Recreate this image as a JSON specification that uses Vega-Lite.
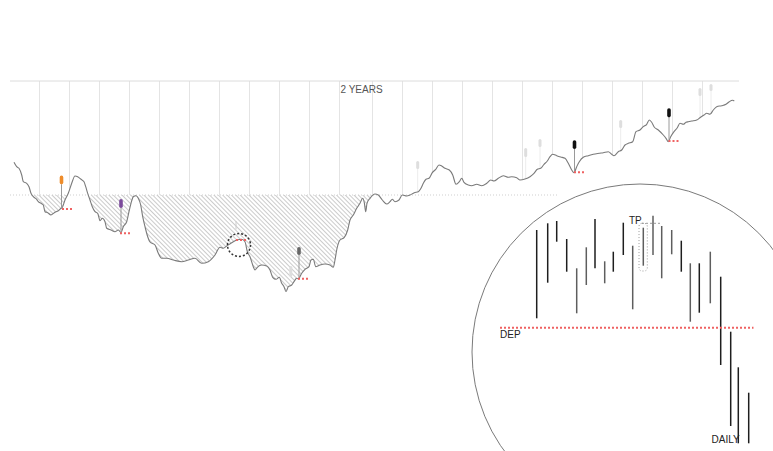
{
"$schema": "https://vega.github.io/schema/vega-lite/v6.json",
"width": 773, "height": 451, "autosize": {"type": "none"}, "padding": 0,
"background": "white",
"config": {"view": {"stroke": null}},
"resolve": {"scale": {"color": "independent"}},
"datasets": {
"price": [{"t":14,"v":288.7},{"t":16.7,"v":284.3},{"t":19,"v":282.7},{"t":21.7,"v":276},{"t":23.3,"v":269.3},{"t":26.7,"v":267.7},{"t":29,"v":264.3},{"t":31,"v":257.7},{"t":33.3,"v":254.3},{"t":36.7,"v":251.7},{"t":38.3,"v":249.3},{"t":41,"v":247.7},{"t":43.3,"v":246},{"t":45,"v":239.3},{"t":47.7,"v":238.3},{"t":51,"v":236},{"t":54.3,"v":238.3},{"t":58.3,"v":240.3},{"t":61,"v":242.7},{"t":62.3,"v":243.5},{"t":65,"v":251},{"t":68.3,"v":257.7},{"t":71.7,"v":267.7},{"t":75,"v":275},{"t":77.7,"v":274.3},{"t":81,"v":271.7},{"t":84,"v":269.3},{"t":85.7,"v":264.3},{"t":87.7,"v":257.7},{"t":90,"v":251},{"t":92.3,"v":244.3},{"t":95,"v":239.3},{"t":97.7,"v":237.7},{"t":100,"v":230.3},{"t":102.3,"v":232.7},{"t":105,"v":229.3},{"t":106.7,"v":222.7},{"t":111,"v":221},{"t":115,"v":219.3},{"t":118.3,"v":221},{"t":121,"v":218.5},{"t":123.3,"v":224.3},{"t":126.7,"v":229.3},{"t":129,"v":239.3},{"t":131,"v":247.7},{"t":133.3,"v":254.3},{"t":136,"v":255.3},{"t":138.3,"v":252.7},{"t":140.7,"v":246},{"t":142.7,"v":234.3},{"t":145,"v":224.3},{"t":147.7,"v":214.3},{"t":150,"v":209},{"t":155,"v":206},{"t":158.3,"v":197.7},{"t":161.7,"v":192.7},{"t":166.7,"v":192.7},{"t":173.3,"v":191},{"t":181.7,"v":189.3},{"t":188.3,"v":191},{"t":195,"v":192.7},{"t":201.7,"v":187.7},{"t":208.3,"v":189.3},{"t":215,"v":196},{"t":220,"v":203.7},{"t":223.3,"v":202.7},{"t":226.7,"v":205},{"t":231.7,"v":208.3},{"t":236.7,"v":211},{"t":241.7,"v":211.7},{"t":245,"v":209.3},{"t":247.3,"v":199.3},{"t":250,"v":194.3},{"t":253.3,"v":184.3},{"t":255,"v":181},{"t":257.3,"v":183.7},{"t":261.7,"v":186},{"t":266.7,"v":185},{"t":270,"v":181},{"t":272.7,"v":173.7},{"t":276,"v":171.7},{"t":279.3,"v":173.7},{"t":281.7,"v":167.7},{"t":284,"v":164.3},{"t":286,"v":159.3},{"t":288.3,"v":164.3},{"t":291.7,"v":166},{"t":294,"v":169.3},{"t":296.7,"v":172.7},{"t":298.3,"v":172},{"t":301.7,"v":177.7},{"t":305,"v":181.7},{"t":309,"v":184.3},{"t":311,"v":191},{"t":313.3,"v":191.7},{"t":315.7,"v":184.3},{"t":320,"v":186},{"t":325,"v":187},{"t":330,"v":186},{"t":333.3,"v":183.7},{"t":335,"v":191},{"t":336.7,"v":201},{"t":340,"v":211},{"t":344.3,"v":213.7},{"t":347.7,"v":221},{"t":350,"v":231},{"t":353.3,"v":236},{"t":356.7,"v":242.7},{"t":360,"v":247.7},{"t":362.7,"v":252.7},{"t":364.3,"v":248.3},{"t":365.7,"v":239.3},{"t":367,"v":247.7},{"t":370,"v":252.7},{"t":375,"v":257},{"t":378.3,"v":256},{"t":382.3,"v":251},{"t":386.7,"v":247},{"t":390,"v":249.3},{"t":392.3,"v":251.7},{"t":395,"v":249.3},{"t":399,"v":251},{"t":402.3,"v":256},{"t":406.7,"v":255},{"t":410,"v":256},{"t":414.3,"v":258.3},{"t":418.3,"v":259.3},{"t":421,"v":262.7},{"t":423.3,"v":267.7},{"t":426,"v":271.7},{"t":429,"v":272.7},{"t":432.3,"v":278.3},{"t":435.7,"v":281.7},{"t":439,"v":286},{"t":441.7,"v":285},{"t":445,"v":282.7},{"t":449.3,"v":281},{"t":452.7,"v":276},{"t":456,"v":266.7},{"t":459.3,"v":269.3},{"t":461.7,"v":272.7},{"t":464,"v":268.7},{"t":468.3,"v":266},{"t":471.7,"v":265.3},{"t":476.7,"v":266.7},{"t":481.7,"v":265.3},{"t":486.7,"v":267.7},{"t":490.7,"v":271},{"t":494,"v":270},{"t":498.3,"v":272.7},{"t":503.3,"v":275.3},{"t":508.3,"v":273.7},{"t":511.7,"v":274.3},{"t":516.7,"v":273.3},{"t":520,"v":271},{"t":525,"v":272},{"t":530,"v":274.3},{"t":534,"v":277.7},{"t":537.3,"v":281.7},{"t":540.7,"v":282.7},{"t":544,"v":286.7},{"t":547.3,"v":290},{"t":550,"v":294.3},{"t":552.7,"v":296.7},{"t":556.7,"v":295.3},{"t":560.7,"v":294},{"t":565,"v":292.7},{"t":568.3,"v":287.7},{"t":571.7,"v":281},{"t":574,"v":278.3},{"t":576.7,"v":284.3},{"t":579.3,"v":289.3},{"t":583.3,"v":293.7},{"t":588.3,"v":295.3},{"t":593.3,"v":296.7},{"t":599.3,"v":297.7},{"t":603.3,"v":298.3},{"t":608.3,"v":299.3},{"t":611.7,"v":296.7},{"t":614,"v":295.3},{"t":618.3,"v":299.3},{"t":621.7,"v":301},{"t":625,"v":306},{"t":628.3,"v":307.7},{"t":632.7,"v":309.3},{"t":636,"v":319.3},{"t":640,"v":321},{"t":643.3,"v":324.3},{"t":646.7,"v":326.7},{"t":649.3,"v":331},{"t":651.7,"v":328.7},{"t":654,"v":324.3},{"t":658.3,"v":321},{"t":663.3,"v":316},{"t":666,"v":312.7},{"t":668.3,"v":309.3},{"t":670.7,"v":314.3},{"t":674,"v":319.3},{"t":677.3,"v":323.3},{"t":680,"v":327.7},{"t":683.3,"v":326.7},{"t":686,"v":328.7},{"t":688.3,"v":329.3},{"t":691.7,"v":330},{"t":696.7,"v":331},{"t":700,"v":333.3},{"t":704,"v":336},{"t":706.7,"v":337.7},{"t":710,"v":336.7},{"t":713.3,"v":341},{"t":716.7,"v":344.3},{"t":721.7,"v":345.3},{"t":726,"v":346.7},{"t":729.3,"v":349.3},{"t":732.7,"v":350.7},{"t":734.3,"v":350}],
"drawdown": [{"t":32.1,"v":256},{"t":33.3,"v":254.3},{"t":36.7,"v":251.7},{"t":38.3,"v":249.3},{"t":41,"v":247.7},{"t":43.3,"v":246},{"t":45,"v":239.3},{"t":47.7,"v":238.3},{"t":51,"v":236},{"t":54.3,"v":238.3},{"t":58.3,"v":240.3},{"t":61,"v":242.7},{"t":62.3,"v":243.5},{"t":65,"v":251},{"t":67.5,"v":256},{"t":88.3,"v":256},{"t":90,"v":251},{"t":92.3,"v":244.3},{"t":95,"v":239.3},{"t":97.7,"v":237.7},{"t":100,"v":230.3},{"t":102.3,"v":232.7},{"t":105,"v":229.3},{"t":106.7,"v":222.7},{"t":111,"v":221},{"t":115,"v":219.3},{"t":118.3,"v":221},{"t":121,"v":218.5},{"t":123.3,"v":224.3},{"t":126.7,"v":229.3},{"t":129,"v":239.3},{"t":131,"v":247.7},{"t":133.3,"v":254.3},{"t":136,"v":255.3},{"t":138.3,"v":252.7},{"t":140.7,"v":246},{"t":142.7,"v":234.3},{"t":145,"v":224.3},{"t":147.7,"v":214.3},{"t":150,"v":209},{"t":155,"v":206},{"t":158.3,"v":197.7},{"t":161.7,"v":192.7},{"t":166.7,"v":192.7},{"t":173.3,"v":191},{"t":181.7,"v":189.3},{"t":188.3,"v":191},{"t":195,"v":192.7},{"t":201.7,"v":187.7},{"t":208.3,"v":189.3},{"t":215,"v":196},{"t":220,"v":203.7},{"t":223.3,"v":202.7},{"t":226.7,"v":205},{"t":231.7,"v":208.3},{"t":236.7,"v":211},{"t":241.7,"v":211.7},{"t":245,"v":209.3},{"t":247.3,"v":199.3},{"t":250,"v":194.3},{"t":253.3,"v":184.3},{"t":255,"v":181},{"t":257.3,"v":183.7},{"t":261.7,"v":186},{"t":266.7,"v":185},{"t":270,"v":181},{"t":272.7,"v":173.7},{"t":276,"v":171.7},{"t":279.3,"v":173.7},{"t":281.7,"v":167.7},{"t":284,"v":164.3},{"t":286,"v":159.3},{"t":288.3,"v":164.3},{"t":291.7,"v":166},{"t":294,"v":169.3},{"t":296.7,"v":172.7},{"t":298.3,"v":172},{"t":301.7,"v":177.7},{"t":305,"v":181.7},{"t":309,"v":184.3},{"t":311,"v":191},{"t":313.3,"v":191.7},{"t":315.7,"v":184.3},{"t":320,"v":186},{"t":325,"v":187},{"t":330,"v":186},{"t":333.3,"v":183.7},{"t":335,"v":191},{"t":336.7,"v":201},{"t":340,"v":211},{"t":344.3,"v":213.7},{"t":347.7,"v":221},{"t":350,"v":231},{"t":353.3,"v":236},{"t":356.7,"v":242.7},{"t":360,"v":247.7},{"t":362.7,"v":252.7},{"t":364.3,"v":248.3},{"t":365.7,"v":239.3},{"t":367,"v":247.7},{"t":370,"v":252.7},{"t":373.8,"v":256}],
"grid": [{"t":39.5,"v":370,"v2":249},{"t":69.5,"v":370,"v2":261.2},{"t":99.5,"v":370,"v2":231.9},{"t":129.5,"v":370,"v2":241.4},{"t":159.5,"v":370,"v2":196},{"t":189.5,"v":370,"v2":191.3},{"t":219.5,"v":370,"v2":202.9},{"t":249.5,"v":370,"v2":195.2},{"t":279.5,"v":370,"v2":173.2},{"t":309.5,"v":370,"v2":186},{"t":339.5,"v":370,"v2":209.5},{"t":372.5,"v":370,"v2":254.8},{"t":402.5,"v":370,"v2":256},{"t":432.5,"v":370,"v2":278.5},{"t":462.5,"v":370,"v2":271.3},{"t":492.5,"v":370,"v2":270.4},{"t":522.5,"v":370,"v2":271.5},{"t":552.5,"v":370,"v2":296.5},{"t":582.5,"v":370,"v2":292.8},{"t":612.5,"v":370,"v2":296.2},{"t":642.5,"v":370,"v2":323.5},{"t":672.5,"v":370,"v2":317},{"t":702.5,"v":370,"v2":334.7}],
"frame": [{"t":10,"t2":739,"v":370}],
"base": [{"t":10,"t2":558,"v":256}],
"ghostStems": [{"t":417.7,"v":282,"v2":259},{"t":525.7,"v":294,"v2":272},{"t":540,"v":304,"v2":283},{"t":620.7,"v":323,"v2":301},{"t":700,"v":355,"v2":333},{"t":711,"v":360,"v2":337}],
"ghosts": [{"t":417.7,"v":283.5,"v2":288.5},{"t":525.7,"v":295.5,"v2":301.5},{"t":540,"v":305.5,"v2":310.5},{"t":620.7,"v":324.5,"v2":329.5},{"t":700,"v":356.5,"v2":361.5},{"t":711,"v":361.5,"v2":365.5},{"t":290.8,"v":175.5,"v2":183.5}],
"stems": [{"t":61.5,"v":266.7,"v2":242},{"t":121,"v":243,"v2":217.7},{"t":299,"v":196,"v2":172.3},{"t":574.5,"v":302,"v2":278.7},{"t":669,"v":333.7,"v2":310}],
"candles": [{"t":61.5,"v":268.4,"v2":273.6,"sig":"s1"},{"t":121,"v":244.7,"v2":250.3,"sig":"s2"},{"t":299,"v":197.7,"v2":202.3,"sig":"s3"},{"t":574.5,"v":303.7,"v2":309,"sig":"s4"},{"t":669,"v":335.4,"v2":341,"sig":"s4"}],
"stops": [{"t":62,"t2":72,"v":242},{"t":120,"t2":130,"v":217.7},{"t":298,"t2":308.5,"v":172.3},{"t":574,"t2":584,"v":278.7},{"t":668.5,"t2":678.5,"v":310},{"t":236,"t2":247,"v":211}],
"ticks": [{"t":236,"v":230,"v2":221.5}],
"ring": [{"t":239,"v":206}],
"zoomCircle": [{"t":640,"v":99}],
"daily": [{"t":536.7,"v":221,"v2":132.7,"tone":"dark"},{"t":547.7,"v":227.7,"v2":168.3,"tone":"dark"},{"t":556.7,"v":230,"v2":209.3,"tone":"dark"},{"t":566.7,"v":212,"v2":179.3,"tone":"dark"},{"t":576.7,"v":182.7,"v2":137.7,"tone":"mid"},{"t":586.3,"v":203.7,"v2":166,"tone":"mid"},{"t":595,"v":232,"v2":182.7,"tone":"dark"},{"t":604.7,"v":189.7,"v2":167.7,"tone":"mid"},{"t":613.3,"v":199.3,"v2":179.3,"tone":"dark"},{"t":623.3,"v":228.3,"v2":196,"tone":"dark"},{"t":632.7,"v":205.3,"v2":141.7,"tone":"mid"},{"t":643.3,"v":223.3,"v2":185.3,"tone":"mid"},{"t":653,"v":235.3,"v2":196,"tone":"mid"},{"t":661.7,"v":225,"v2":172.7,"tone":"mid"},{"t":671.7,"v":221,"v2":196.7,"tone":"mid"},{"t":681.3,"v":210.3,"v2":179.3,"tone":"dark"},{"t":690.3,"v":187.7,"v2":129.3,"tone":"mid"},{"t":699.3,"v":187.7,"v2":138.3,"tone":"dark"},{"t":710.3,"v":199.3,"v2":147.7,"tone":"mid"},{"t":720.7,"v":174.3,"v2":86,"tone":"dark"},{"t":730.7,"v":119.3,"v2":25,"tone":"dark"},{"t":738.3,"v":83.7,"v2":7.7,"tone":"dark"},{"t":748.7,"v":58.3,"v2":7.7,"tone":"dark"}],
"tpBox": [{"t":639,"t2":647.3,"v":227.7,"v2":180}],
"tpLine": [{"t":642,"t2":660,"v":227.7}],
"dep": [{"t":500,"t2":753.5,"v":123.3}],
"labels": [{"t":340.5,"v":357.7,"label":"2 YEARS","kind":"a"},{"t":629,"v":227,"label":"TP","kind":"b"},{"t":500,"v":112.7,"label":"DEP","kind":"b"},{"t":711.5,"v":8.3,"label":"DAILY","kind":"b"}]
},
"encoding": {
"x": {"field": "t", "type": "quantitative", "scale": {"domain": [0, 773], "nice": false, "zero": false}, "axis": null},
"y": {"field": "v", "type": "quantitative", "scale": {"domain": [0, 451], "nice": false, "zero": false}, "axis": null}
},
"layer": [
{"data": {"name": "grid"}, "mark": {"type": "rule", "color": "#e4e4e4", "strokeWidth": 1}, "encoding": {"y2": {"field": "v2"}}},
{"data": {"name": "frame"}, "mark": {"type": "rule", "color": "#dcdcdc", "strokeWidth": 1}, "encoding": {"x2": {"field": "t2"}}},
{"data": {"name": "drawdown"}, "mark": {"type": "area", "interpolate": "monotone", "fill": {"gradient": "linear", "x1": 0, "y1": 1, "x2": 1.187, "y2": 0.666, "stops": [
{"offset":0.0018,"color":"#fff"},{"offset":0.005,"color":"#cbcbcb"},{"offset":0.0082,"color":"#fff"},
{"offset":0.0118,"color":"#fff"},{"offset":0.015,"color":"#cbcbcb"},{"offset":0.0182,"color":"#fff"},
{"offset":0.0218,"color":"#fff"},{"offset":0.025,"color":"#cbcbcb"},{"offset":0.0282,"color":"#fff"},
{"offset":0.0318,"color":"#fff"},{"offset":0.035,"color":"#cbcbcb"},{"offset":0.0382,"color":"#fff"},
{"offset":0.0418,"color":"#fff"},{"offset":0.045,"color":"#cbcbcb"},{"offset":0.0482,"color":"#fff"},
{"offset":0.0518,"color":"#fff"},{"offset":0.055,"color":"#cbcbcb"},{"offset":0.0582,"color":"#fff"},
{"offset":0.0618,"color":"#fff"},{"offset":0.065,"color":"#cbcbcb"},{"offset":0.0682,"color":"#fff"},
{"offset":0.0718,"color":"#fff"},{"offset":0.075,"color":"#cbcbcb"},{"offset":0.0782,"color":"#fff"},
{"offset":0.0818,"color":"#fff"},{"offset":0.085,"color":"#cbcbcb"},{"offset":0.0882,"color":"#fff"},
{"offset":0.0918,"color":"#fff"},{"offset":0.095,"color":"#cbcbcb"},{"offset":0.0982,"color":"#fff"},
{"offset":0.1018,"color":"#fff"},{"offset":0.105,"color":"#cbcbcb"},{"offset":0.1082,"color":"#fff"},
{"offset":0.1118,"color":"#fff"},{"offset":0.115,"color":"#cbcbcb"},{"offset":0.1182,"color":"#fff"},
{"offset":0.1218,"color":"#fff"},{"offset":0.125,"color":"#cbcbcb"},{"offset":0.1282,"color":"#fff"},
{"offset":0.1318,"color":"#fff"},{"offset":0.135,"color":"#cbcbcb"},{"offset":0.1382,"color":"#fff"},
{"offset":0.1418,"color":"#fff"},{"offset":0.145,"color":"#cbcbcb"},{"offset":0.1482,"color":"#fff"},
{"offset":0.1518,"color":"#fff"},{"offset":0.155,"color":"#cbcbcb"},{"offset":0.1582,"color":"#fff"},
{"offset":0.1618,"color":"#fff"},{"offset":0.165,"color":"#cbcbcb"},{"offset":0.1682,"color":"#fff"},
{"offset":0.1718,"color":"#fff"},{"offset":0.175,"color":"#cbcbcb"},{"offset":0.1782,"color":"#fff"},
{"offset":0.1818,"color":"#fff"},{"offset":0.185,"color":"#cbcbcb"},{"offset":0.1882,"color":"#fff"},
{"offset":0.1918,"color":"#fff"},{"offset":0.195,"color":"#cbcbcb"},{"offset":0.1982,"color":"#fff"},
{"offset":0.2018,"color":"#fff"},{"offset":0.205,"color":"#cbcbcb"},{"offset":0.2082,"color":"#fff"},
{"offset":0.2118,"color":"#fff"},{"offset":0.215,"color":"#cbcbcb"},{"offset":0.2182,"color":"#fff"},
{"offset":0.2218,"color":"#fff"},{"offset":0.225,"color":"#cbcbcb"},{"offset":0.2282,"color":"#fff"},
{"offset":0.2318,"color":"#fff"},{"offset":0.235,"color":"#cbcbcb"},{"offset":0.2382,"color":"#fff"},
{"offset":0.2418,"color":"#fff"},{"offset":0.245,"color":"#cbcbcb"},{"offset":0.2482,"color":"#fff"},
{"offset":0.2518,"color":"#fff"},{"offset":0.255,"color":"#cbcbcb"},{"offset":0.2582,"color":"#fff"},
{"offset":0.2618,"color":"#fff"},{"offset":0.265,"color":"#cbcbcb"},{"offset":0.2682,"color":"#fff"},
{"offset":0.2718,"color":"#fff"},{"offset":0.275,"color":"#cbcbcb"},{"offset":0.2782,"color":"#fff"},
{"offset":0.2818,"color":"#fff"},{"offset":0.285,"color":"#cbcbcb"},{"offset":0.2882,"color":"#fff"},
{"offset":0.2918,"color":"#fff"},{"offset":0.295,"color":"#cbcbcb"},{"offset":0.2982,"color":"#fff"},
{"offset":0.3018,"color":"#fff"},{"offset":0.305,"color":"#cbcbcb"},{"offset":0.3082,"color":"#fff"},
{"offset":0.3118,"color":"#fff"},{"offset":0.315,"color":"#cbcbcb"},{"offset":0.3182,"color":"#fff"},
{"offset":0.3218,"color":"#fff"},{"offset":0.325,"color":"#cbcbcb"},{"offset":0.3282,"color":"#fff"},
{"offset":0.3318,"color":"#fff"},{"offset":0.335,"color":"#cbcbcb"},{"offset":0.3382,"color":"#fff"},
{"offset":0.3418,"color":"#fff"},{"offset":0.345,"color":"#cbcbcb"},{"offset":0.3482,"color":"#fff"},
{"offset":0.3518,"color":"#fff"},{"offset":0.355,"color":"#cbcbcb"},{"offset":0.3582,"color":"#fff"},
{"offset":0.3618,"color":"#fff"},{"offset":0.365,"color":"#cbcbcb"},{"offset":0.3682,"color":"#fff"},
{"offset":0.3718,"color":"#fff"},{"offset":0.375,"color":"#cbcbcb"},{"offset":0.3782,"color":"#fff"},
{"offset":0.3818,"color":"#fff"},{"offset":0.385,"color":"#cbcbcb"},{"offset":0.3882,"color":"#fff"},
{"offset":0.3918,"color":"#fff"},{"offset":0.395,"color":"#cbcbcb"},{"offset":0.3982,"color":"#fff"},
{"offset":0.4018,"color":"#fff"},{"offset":0.405,"color":"#cbcbcb"},{"offset":0.4082,"color":"#fff"},
{"offset":0.4118,"color":"#fff"},{"offset":0.415,"color":"#cbcbcb"},{"offset":0.4182,"color":"#fff"},
{"offset":0.4218,"color":"#fff"},{"offset":0.425,"color":"#cbcbcb"},{"offset":0.4282,"color":"#fff"},
{"offset":0.4318,"color":"#fff"},{"offset":0.435,"color":"#cbcbcb"},{"offset":0.4382,"color":"#fff"},
{"offset":0.4418,"color":"#fff"},{"offset":0.445,"color":"#cbcbcb"},{"offset":0.4482,"color":"#fff"},
{"offset":0.4518,"color":"#fff"},{"offset":0.455,"color":"#cbcbcb"},{"offset":0.4582,"color":"#fff"},
{"offset":0.4618,"color":"#fff"},{"offset":0.465,"color":"#cbcbcb"},{"offset":0.4682,"color":"#fff"},
{"offset":0.4718,"color":"#fff"},{"offset":0.475,"color":"#cbcbcb"},{"offset":0.4782,"color":"#fff"},
{"offset":0.4818,"color":"#fff"},{"offset":0.485,"color":"#cbcbcb"},{"offset":0.4882,"color":"#fff"},
{"offset":0.4918,"color":"#fff"},{"offset":0.495,"color":"#cbcbcb"},{"offset":0.4982,"color":"#fff"},
{"offset":0.5018,"color":"#fff"},{"offset":0.505,"color":"#cbcbcb"},{"offset":0.5082,"color":"#fff"},
{"offset":0.5118,"color":"#fff"},{"offset":0.515,"color":"#cbcbcb"},{"offset":0.5182,"color":"#fff"},
{"offset":0.5218,"color":"#fff"},{"offset":0.525,"color":"#cbcbcb"},{"offset":0.5282,"color":"#fff"},
{"offset":0.5318,"color":"#fff"},{"offset":0.535,"color":"#cbcbcb"},{"offset":0.5382,"color":"#fff"},
{"offset":0.5418,"color":"#fff"},{"offset":0.545,"color":"#cbcbcb"},{"offset":0.5482,"color":"#fff"},
{"offset":0.5518,"color":"#fff"},{"offset":0.555,"color":"#cbcbcb"},{"offset":0.5582,"color":"#fff"},
{"offset":0.5618,"color":"#fff"},{"offset":0.565,"color":"#cbcbcb"},{"offset":0.5682,"color":"#fff"},
{"offset":0.5718,"color":"#fff"},{"offset":0.575,"color":"#cbcbcb"},{"offset":0.5782,"color":"#fff"},
{"offset":0.5818,"color":"#fff"},{"offset":0.585,"color":"#cbcbcb"},{"offset":0.5882,"color":"#fff"},
{"offset":0.5918,"color":"#fff"},{"offset":0.595,"color":"#cbcbcb"},{"offset":0.5982,"color":"#fff"},
{"offset":0.6018,"color":"#fff"},{"offset":0.605,"color":"#cbcbcb"},{"offset":0.6082,"color":"#fff"},
{"offset":0.6118,"color":"#fff"},{"offset":0.615,"color":"#cbcbcb"},{"offset":0.6182,"color":"#fff"},
{"offset":0.6218,"color":"#fff"},{"offset":0.625,"color":"#cbcbcb"},{"offset":0.6282,"color":"#fff"},
{"offset":0.6318,"color":"#fff"},{"offset":0.635,"color":"#cbcbcb"},{"offset":0.6382,"color":"#fff"},
{"offset":0.6418,"color":"#fff"},{"offset":0.645,"color":"#cbcbcb"},{"offset":0.6482,"color":"#fff"},
{"offset":0.6518,"color":"#fff"},{"offset":0.655,"color":"#cbcbcb"},{"offset":0.6582,"color":"#fff"},
{"offset":0.6618,"color":"#fff"},{"offset":0.665,"color":"#cbcbcb"},{"offset":0.6682,"color":"#fff"},
{"offset":0.6718,"color":"#fff"},{"offset":0.675,"color":"#cbcbcb"},{"offset":0.6782,"color":"#fff"},
{"offset":0.6818,"color":"#fff"},{"offset":0.685,"color":"#cbcbcb"},{"offset":0.6882,"color":"#fff"},
{"offset":0.6918,"color":"#fff"},{"offset":0.695,"color":"#cbcbcb"},{"offset":0.6982,"color":"#fff"},
{"offset":0.7018,"color":"#fff"},{"offset":0.705,"color":"#cbcbcb"},{"offset":0.7082,"color":"#fff"},
{"offset":0.7118,"color":"#fff"},{"offset":0.715,"color":"#cbcbcb"},{"offset":0.7182,"color":"#fff"},
{"offset":0.7218,"color":"#fff"},{"offset":0.725,"color":"#cbcbcb"},{"offset":0.7282,"color":"#fff"},
{"offset":0.7318,"color":"#fff"},{"offset":0.735,"color":"#cbcbcb"},{"offset":0.7382,"color":"#fff"},
{"offset":0.7418,"color":"#fff"},{"offset":0.745,"color":"#cbcbcb"},{"offset":0.7482,"color":"#fff"},
{"offset":0.7518,"color":"#fff"},{"offset":0.755,"color":"#cbcbcb"},{"offset":0.7582,"color":"#fff"},
{"offset":0.7618,"color":"#fff"},{"offset":0.765,"color":"#cbcbcb"},{"offset":0.7682,"color":"#fff"},
{"offset":0.7718,"color":"#fff"},{"offset":0.775,"color":"#cbcbcb"},{"offset":0.7782,"color":"#fff"},
{"offset":0.7818,"color":"#fff"},{"offset":0.785,"color":"#cbcbcb"},{"offset":0.7882,"color":"#fff"},
{"offset":0.7918,"color":"#fff"},{"offset":0.795,"color":"#cbcbcb"},{"offset":0.7982,"color":"#fff"},
{"offset":0.8018,"color":"#fff"},{"offset":0.805,"color":"#cbcbcb"},{"offset":0.8082,"color":"#fff"},
{"offset":0.8118,"color":"#fff"},{"offset":0.815,"color":"#cbcbcb"},{"offset":0.8182,"color":"#fff"},
{"offset":0.8218,"color":"#fff"},{"offset":0.825,"color":"#cbcbcb"},{"offset":0.8282,"color":"#fff"},
{"offset":0.8318,"color":"#fff"},{"offset":0.835,"color":"#cbcbcb"},{"offset":0.8382,"color":"#fff"},
{"offset":0.8418,"color":"#fff"},{"offset":0.845,"color":"#cbcbcb"},{"offset":0.8482,"color":"#fff"},
{"offset":0.8518,"color":"#fff"},{"offset":0.855,"color":"#cbcbcb"},{"offset":0.8582,"color":"#fff"},
{"offset":0.8618,"color":"#fff"},{"offset":0.865,"color":"#cbcbcb"},{"offset":0.8682,"color":"#fff"},
{"offset":0.8718,"color":"#fff"},{"offset":0.875,"color":"#cbcbcb"},{"offset":0.8782,"color":"#fff"},
{"offset":0.8818,"color":"#fff"},{"offset":0.885,"color":"#cbcbcb"},{"offset":0.8882,"color":"#fff"},
{"offset":0.8918,"color":"#fff"},{"offset":0.895,"color":"#cbcbcb"},{"offset":0.8982,"color":"#fff"},
{"offset":0.9018,"color":"#fff"},{"offset":0.905,"color":"#cbcbcb"},{"offset":0.9082,"color":"#fff"},
{"offset":0.9118,"color":"#fff"},{"offset":0.915,"color":"#cbcbcb"},{"offset":0.9182,"color":"#fff"},
{"offset":0.9218,"color":"#fff"},{"offset":0.925,"color":"#cbcbcb"},{"offset":0.9282,"color":"#fff"},
{"offset":0.9318,"color":"#fff"},{"offset":0.935,"color":"#cbcbcb"},{"offset":0.9382,"color":"#fff"},
{"offset":0.9418,"color":"#fff"},{"offset":0.945,"color":"#cbcbcb"},{"offset":0.9482,"color":"#fff"},
{"offset":0.9518,"color":"#fff"},{"offset":0.955,"color":"#cbcbcb"},{"offset":0.9582,"color":"#fff"},
{"offset":0.9618,"color":"#fff"},{"offset":0.965,"color":"#cbcbcb"},{"offset":0.9682,"color":"#fff"},
{"offset":0.9718,"color":"#fff"},{"offset":0.975,"color":"#cbcbcb"},{"offset":0.9782,"color":"#fff"},
{"offset":0.9818,"color":"#fff"},{"offset":0.985,"color":"#cbcbcb"},{"offset":0.9882,"color":"#fff"},
{"offset":0.9918,"color":"#fff"},{"offset":0.995,"color":"#cbcbcb"},{"offset":0.9982,"color":"#fff"}
]}}, "encoding": {"y2": {"datum": 256}}},
{"data": {"name": "base"}, "mark": {"type": "rule", "color": "#cfcfcf", "strokeWidth": 1, "strokeDash": [1, 2]}, "encoding": {"x2": {"field": "t2"}}},
{"data": {"name": "ghostStems"}, "mark": {"type": "rule", "color": "#ececec", "strokeWidth": 1}, "encoding": {"y2": {"field": "v2"}}},
{"data": {"name": "ghosts"}, "mark": {"type": "rule", "color": "#dedede", "strokeWidth": 3, "strokeCap": "round"}, "encoding": {"y2": {"field": "v2"}}},
{"data": {"name": "ticks"}, "mark": {"type": "rule", "color": "#cccccc", "strokeWidth": 1}, "encoding": {"y2": {"field": "v2"}}},
{"data": {"name": "price"}, "mark": {"type": "line", "color": "#7a7a7a", "strokeWidth": 1.1, "interpolate": "monotone"}, "encoding": {}},
{"data": {"name": "stems"}, "mark": {"type": "rule", "color": "#9a9a9a", "strokeWidth": 1}, "encoding": {"y2": {"field": "v2"}}},
{"data": {"name": "candles"}, "mark": {"type": "rule", "strokeWidth": 3.6, "strokeCap": "round"}, "encoding": {"y2": {"field": "v2"}, "color": {"field": "sig", "type": "nominal", "scale": {"domain": ["s1", "s2", "s3", "s4"], "range": ["#ee8c2a", "#7b4a9b", "#666666", "#111111"]}, "legend": null}}},
{"data": {"name": "stops"}, "mark": {"type": "rule", "color": "#ef6262", "strokeWidth": 2, "strokeDash": [2, 2]}, "encoding": {"x2": {"field": "t2"}}},
{"data": {"name": "ring"}, "mark": {"type": "point", "shape": "circle", "size": 529, "filled": false, "color": "#333333", "strokeWidth": 1.5, "strokeDash": [2, 2], "opacity": 1}, "encoding": {}},
{"data": {"name": "zoomCircle"}, "mark": {"type": "point", "shape": "circle", "size": 112896, "filled": false, "color": "#7a7a7a", "strokeWidth": 1, "opacity": 1}, "encoding": {}},
{"data": {"name": "daily"}, "mark": {"type": "rule", "strokeWidth": 1.5}, "encoding": {"y2": {"field": "v2"}, "color": {"field": "tone", "type": "nominal", "scale": {"domain": ["dark", "mid"], "range": ["#1e1e1e", "#5e5e5e"]}, "legend": null}}},
{"data": {"name": "tpBox"}, "mark": {"type": "rect", "fillOpacity": 0, "stroke": "#9a9a9a", "strokeWidth": 1, "strokeDash": [1, 2], "cornerRadius": 3}, "encoding": {"x2": {"field": "t2"}, "y2": {"field": "v2"}}},
{"data": {"name": "tpLine"}, "mark": {"type": "rule", "color": "#9a9a9a", "strokeWidth": 1, "strokeDash": [2, 2]}, "encoding": {"x2": {"field": "t2"}}},
{"data": {"name": "dep"}, "mark": {"type": "rule", "color": "#ef6262", "strokeWidth": 2, "strokeDash": [2, 2]}, "encoding": {"x2": {"field": "t2"}}},
{"data": {"name": "labels"}, "mark": {"type": "text", "align": "left", "baseline": "alphabetic", "font": "Liberation Sans", "fontSize": 10}, "encoding": {"text": {"field": "label"}, "color": {"field": "kind", "type": "nominal", "scale": {"domain": ["a", "b"], "range": ["#555555", "#222222"]}, "legend": null}}}
]
}
